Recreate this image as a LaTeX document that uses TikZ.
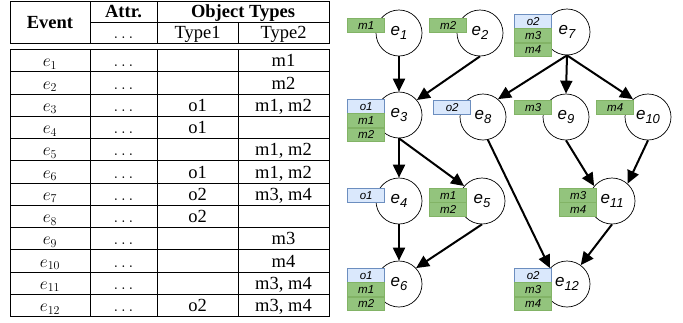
\documentclass[tikz,border=0pt]{standalone}
\usepackage{fontspec}
\setmainfont{Liberation Serif}
\newfontfamily\graphfont{Liberation Sans}
\usetikzlibrary{arrows.meta}
\definecolor{tagG}{HTML}{93C47D}
\definecolor{tagGd}{HTML}{82B366}
\definecolor{tagB}{HTML}{DAE8FC}
\definecolor{tagBd}{HTML}{6C8EBF}
\newcommand\elab[1]{e\raisebox{-4.5pt}{\fontsize{13}{13}\selectfont #1}}
\begin{document}
\begin{tikzpicture}[x=1pt,y=-1pt,
 cell/.style={font=\fontsize{18.5}{18.5}\selectfont, inner sep=0, text height=13pt, text depth=0.7pt},
 hcell/.style={cell, font=\fontsize{18.5}{18.5}\selectfont\bfseries},
 tline/.style={line width=0.8pt},
 ev/.style={circle, draw, line width=0.7pt, minimum size=46pt, inner sep=0, fill=white, font=\graphfont\itshape\fontsize{17}{17}\selectfont},
 tagg/.style={draw=tagGd, fill=tagG, line width=0.6pt, minimum width=37pt, minimum height=13.7pt, inner sep=0, font=\graphfont\itshape\fontsize{11.5}{11.5}\selectfont, anchor=north east},
 tagb/.style={tagg, draw=tagBd, fill=tagB},
 flow/.style={line width=2pt, -{Triangle[length=13pt,width=12pt]}},
]
\useasboundingbox (0,0) rectangle (683,322);
% ---------- table ----------
\draw[tline] (10,1) rectangle (329,43);
\draw[tline] (90,1) -- (90,43);
\draw[tline] (157,1) -- (157,43);
\draw[tline] (90,22) -- (329,22);
\draw[tline] (238,22) -- (238,43);
\draw[tline] (10,49.5) rectangle (329,316.5);
\foreach \xx in {90,157,238} \draw[tline] (\xx,49.5) -- (\xx,316.5);
\foreach \k in {1,...,11} \draw[tline] (10,{49.5+\k*22.25}) -- (329,{49.5+\k*22.25});
\node[hcell] (hEvent) at (50,22) {Event};
\node[hcell] (hAttr) at (123.5,11.5) {Attr.};
\node[hcell] (hObj) at (243,11.5) {Object Types};
\node[cell] (hDots) at (123.5,32.5) {$\ldots$};
\node[cell] (hT1) at (197.5,32.5) {Type1};
\node[cell] (hT2) at (283.5,32.5) {Type2};
\foreach \k in {1,...,12}{
  \node[cell] (ev\k) at (50,{49.5+(\k-0.5)*22.25}) {$e_{\k}$};
  \node[cell] (at\k) at (123.5,{49.5+(\k-0.5)*22.25}) {$\ldots$};
}
\foreach \k/\t in {3/o1,4/o1,6/o1,7/o2,8/o2,12/o2}
  \node[cell] (ta\k) at (197.5,{49.5+(\k-0.5)*22.25}) {\t};
\foreach \k/\t in {1/m1,2/m2,3/{m1, m2},5/{m1, m2},6/{m1, m2},7/{m3, m4},9/m3,10/m4,11/{m3, m4},12/{m3, m4}}
  \node[cell] (tb\k) at (283.5,{49.5+(\k-0.5)*22.25}) {\t};
% ---------- graph ----------
\node[ev] (e1) at (399,33) {\elab{1}};
\node[ev] (e2) at (480,33) {\elab{2}};
\node[ev] (e7) at (567,32) {\elab{7}};
\node[ev] (e3) at (399,115) {\elab{3}};
\node[ev] (e8) at (483,117) {\elab{8}};
\node[ev] (e9) at (566,117) {\elab{9}};
\node[ev] (e10) at (648,117) {\elab{10}};
\node[ev] (e4) at (399,201) {\elab{4}};
\node[ev] (e5) at (482,201) {\elab{5}};
\node[ev] (e11) at (612,201) {\elab{11}};
\node[ev] (e6) at (399,284) {\elab{6}};
\node[ev] (e12) at (567,284) {\elab{12}};
\draw[flow] (e1.south) -- (e3.north);
\draw[flow] (e2.south) -- (e3.40);
\draw[flow] (e7.south) -- (e8.50);
\draw[flow] (e7.south) -- (e9.north);
\draw[flow] (e7.south) -- (e10.130);
\draw[flow] (e3.south) -- (e4.north);
\draw[flow] (e3.south) -- (e5.140);
\draw[flow] (e8.-78) -- (e12.137);
\draw[flow] (e9.south) -- (e11.140);
\draw[flow] (e10.south) -- (e11.48);
\draw[flow] (e4.south) -- (e6.north);
\draw[flow] (e5.south) -- (e6.43);
\draw[flow] (e11.south) -- (e12.54);
% tags
\node[tagg] (t1a) at (385,18) {m1};
\node[tagg] (t2a) at (467,18) {m2};
\node[tagb] (t7a) at (552,14) {o2};
\node[tagg,anchor=north] (t7b) at (t7a.south) {m3};
\node[tagg,anchor=north] (t7c) at (t7b.south) {m4};
\node[tagb] (t3a) at (385,99) {o1};
\node[tagg,anchor=north] (t3b) at (t3a.south) {m1};
\node[tagg,anchor=north] (t3c) at (t3b.south) {m2};
\node[tagb] (t8a) at (471,100) {o2};
\node[tagg] (t9a) at (552,100) {m3};
\node[tagg] (t10a) at (634,100) {m4};
\node[tagb] (t4a) at (385,188) {o1};
\node[tagg] (t5a) at (467,188) {m1};
\node[tagg,anchor=north] (t5b) at (t5a.south) {m2};
\node[tagg] (t11a) at (597,188) {m3};
\node[tagg,anchor=north] (t11b) at (t11a.south) {m4};
\node[tagb] (t6a) at (385,268) {o1};
\node[tagg,anchor=north] (t6b) at (t6a.south) {m1};
\node[tagg,anchor=north] (t6c) at (t6b.south) {m2};
\node[tagb] (t12a) at (552,268) {o2};
\node[tagg,anchor=north] (t12b) at (t12a.south) {m3};
\node[tagg,anchor=north] (t12c) at (t12b.south) {m4};
\end{tikzpicture}
\end{document}
